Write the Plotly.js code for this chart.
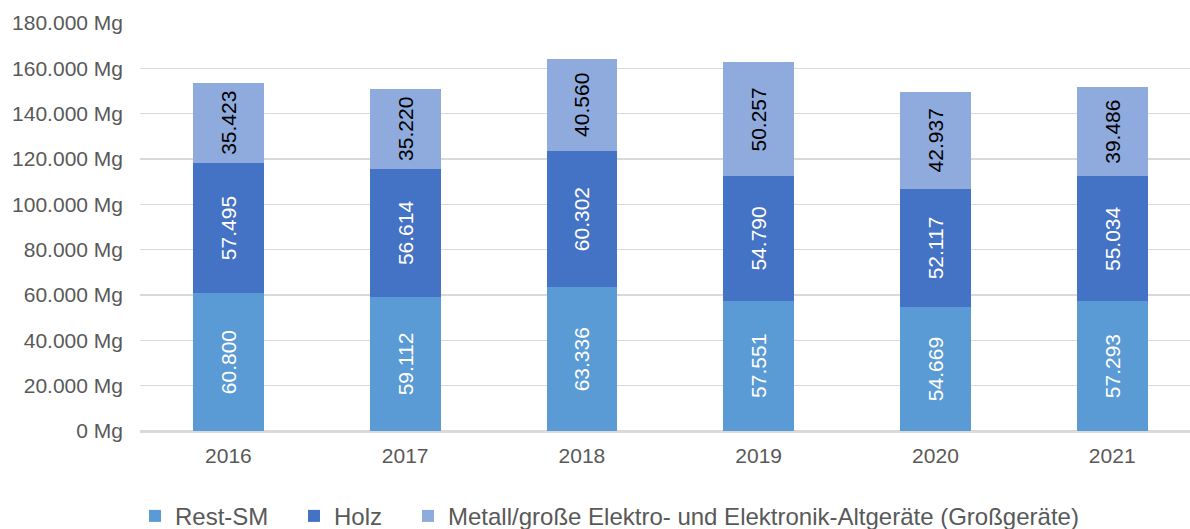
<!DOCTYPE html>
<html>
<head>
<meta charset="utf-8">
<script src="https://cdn.plot.ly/plotly-3.0.1.min.js"></script>
<style>html,body{margin:0;padding:0;background:#fff;}#chart{width:1190px;height:529px;}</style>
</head>
<body>
<div id="chart"></div>
<script>
const years = ['2016', '2017', '2018', '2019', '2020', '2021'];
const restSM = [60800, 59112, 63336, 57551, 54669, 57293];
const holz = [57495, 56614, 60302, 54790, 52117, 55034];
const metall = [35423, 35220, 40560, 50257, 42937, 39486];
const seriesNames = ['Rest-SM', 'Holz', 'Metall/große Elektro- und Elektronik-Altgeräte (Großgeräte)'];

const FONT = 'Liberation Sans, Arial, sans-serif';
function mk(name, vals, color, txtColor, leg) {
  return {
    type: 'bar', name: name, x: years, y: vals, legend: leg,
    marker: {color: color, line: {width: 0}},
    texttemplate: '%{y:,.0f}', textposition: 'inside', insidetextanchor: 'middle',
    textangle: -90, constraintext: 'none',
    textfont: {family: FONT, size: 21, color: txtColor},
    hoverinfo: 'skip'
  };
}
const data = [
  mk(seriesNames[0], restSM, '#5B9BD5', '#ffffff', 'legend'),
  mk(seriesNames[1], holz, '#4472C4', '#ffffff', 'legend2'),
  mk(seriesNames[2], metall, '#8FAADC', '#000000', 'legend3')
];
function leg(px) {
  return {
    orientation: 'h', xref: 'container', yref: 'container',
    x: px / 1190, xanchor: 'left', y: 0.024, yanchor: 'middle',
    font: {family: FONT, size: 24, color: '#595959'},
    bgcolor: 'rgba(0,0,0,0)', itemclick: false
  };
}
const layout = {
  width: 1190, height: 529,
  margin: {l: 140, r: 0, t: 23, b: 98},
  barmode: 'stack', bargap: 0.6,
  separators: ',.',
  paper_bgcolor: '#fff', plot_bgcolor: '#fff',
  font: {family: FONT, size: 21, color: '#595959'},
  xaxis: {
    type: 'category', range: [-0.5, 5.44], showgrid: false,
    showline: true, linecolor: '#D9D9D9', linewidth: 1.5,
    ticks: '', ticklabelstandoff: 5,
    tickfont: {family: FONT, size: 21, color: '#595959'}
  },
  yaxis: {
    range: [0, 180000], dtick: 20000, tickformat: ',.0f', ticksuffix: ' Mg',
    showgrid: true, gridcolor: '#D9D9D9', gridwidth: 1.5,
    zeroline: true, zerolinecolor: '#D9D9D9', zerolinewidth: 1.5,
    ticks: '', ticklabelstandoff: 16,
    tickfont: {family: FONT, size: 21, color: '#595959'}
  },
  showlegend: true,
  legend: leg(135),
  legend2: leg(294),
  legend3: leg(408)
};
Plotly.newPlot('chart', data, layout, {displayModeBar: false, staticPlot: true});
</script>
</body>
</html>
